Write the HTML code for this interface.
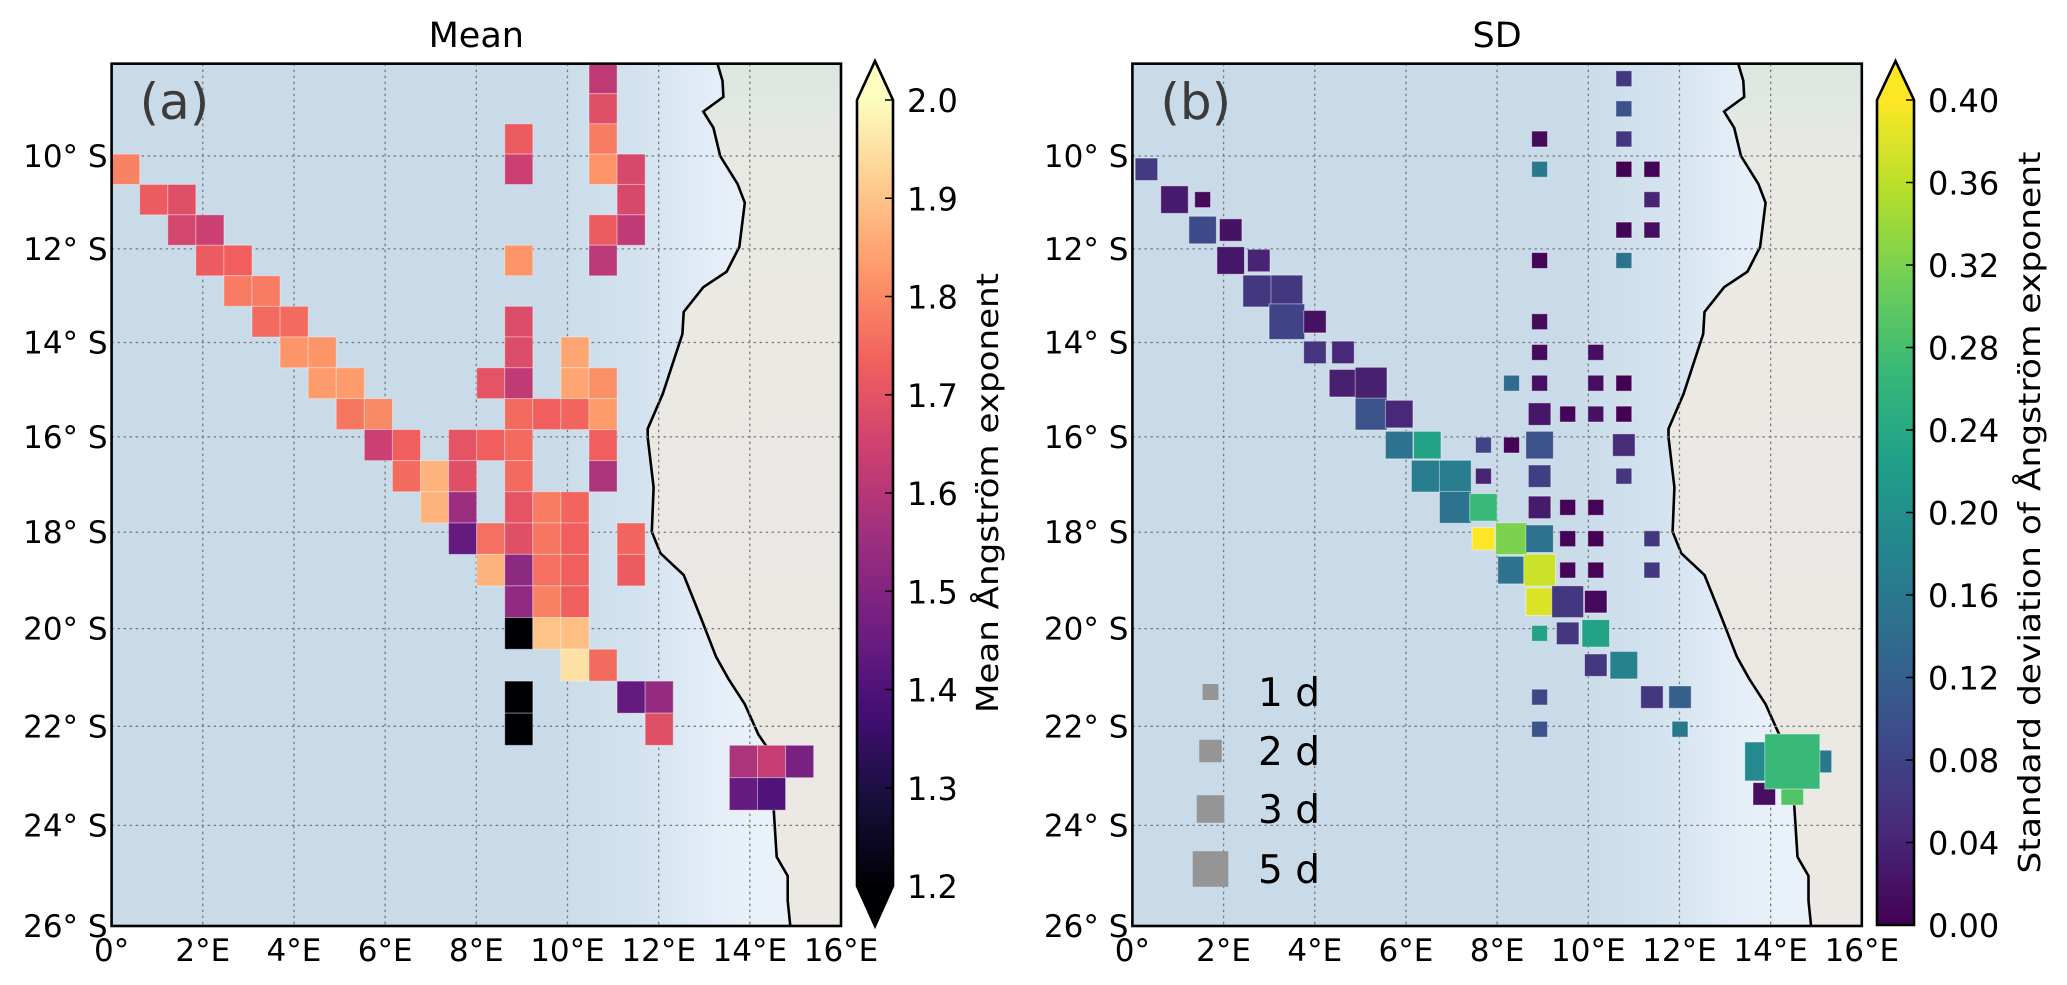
<!DOCTYPE html>
<html><head><meta charset="utf-8"><style>
html,body{margin:0;padding:0;background:#fff;}
svg text{font-family:"DejaVu Sans","Liberation Sans",sans-serif;}
</style></head><body>
<svg id="fig" width="2067" height="980" viewBox="0 0 2067 980" xmlns="http://www.w3.org/2000/svg">
<defs>
<linearGradient id="ocean" x1="0" y1="0" x2="1" y2="0">
<stop offset="0" stop-color="#c9dbe9"/><stop offset="0.6" stop-color="#c9dbe9"/><stop offset="0.72" stop-color="#d3e2ef"/><stop offset="0.84" stop-color="#e6eff8"/><stop offset="1" stop-color="#eef4fa"/>
</linearGradient>
<linearGradient id="land" x1="0" y1="0" x2="0" y2="1">
<stop offset="0" stop-color="#dbe6df"/><stop offset="0.12" stop-color="#e9e9e4"/><stop offset="1" stop-color="#ece8e3"/>
</linearGradient>
<clipPath id="clipA"><rect x="111.6" y="63.7" width="729.5" height="862.3"/></clipPath>
<clipPath id="clipB"><rect x="1132.4" y="63.7" width="729.5" height="862.3"/></clipPath>
</defs>
</svg>
<script>
// ---- data ----
const meanI = [17,17,14,17, 0,14,17,18, 1,2,18, 2,3,17,18, 3,4,14,17, 4,5, 5,6,14, 6,7,14,16, 7,8,13,14,16,17, 8,9,14,15,16,17, 9,10,12,13,14,17, 10,11,12,14,17, 11,12,14,15,16, 12,13,14,15,16,18, 13,14,15,16,18, 14,15,16, 14,15,16, 16,17, 14,18,19, 14,19, 22,23,24, 22,23];
const meanJ = [-3,-2,-1,-1, 0,0,0,0, 1,1,1, 2,2,2,2, 3,3,3,3, 4,4, 5,5,5, 6,6,6,6, 7,7,7,7,7,7, 8,8,8,8,8,8, 9,9,9,9,9,9, 10,10,10,10,10, 11,11,11,11,11, 12,12,12,12,12,12, 13,13,13,13,13, 14,14,14, 15,15,15, 16,16, 17,17,17, 18,18, 19,19,19, 20,20];
const meanV = [1.62,1.69,1.72,1.78, 1.79,1.64,1.82,1.67, 1.72,1.69,1.67, 1.66,1.64,1.72,1.62, 1.72,1.73,1.82,1.61, 1.78,1.78, 1.75,1.75,1.68, 1.82,1.82,1.68,1.85, 1.83,1.83,1.70,1.62,1.85,1.81, 1.77,1.80,1.75,1.73,1.74,1.83, 1.64,1.73,1.70,1.73,1.75,1.73, 1.75,1.87,1.69,1.75,1.58, 1.87,1.55,1.70,1.78,1.74, 1.44,1.76,1.69,1.77,1.73,1.74, 1.87,1.52,1.76,1.73,1.72, 1.53,1.79,1.73, 1.20,1.90,1.89, 1.95,1.75, 1.20,1.44,1.54, 1.20,1.69, 1.58,1.63,1.48, 1.44,1.40];

const sdI = [17,17,14,17, 0,14,17,18, 1,2,18, 2,3,17,18, 3,4,14,17, 4,5, 5,6,14, 6,7,14,16, 7,8,13,14,16,17, 8,9,14,15,16,17, 9,10,12,13,14,17, 10,11,12,14,17, 11,12,14,15,16, 12,13,14,15,16,18, 13,14,15,16,18, 14,15,16, 14,15,16, 16,17, 14,18,19, 14,19, 22,23,22,24,23];
const sdJ = [-3,-2,-1,-1, 0,0,0,0, 1,1,1, 2,2,2,2, 3,3,3,3, 4,4, 5,5,5, 6,6,6,6, 7,7,7,7,7,7, 8,8,8,8,8,8, 9,9,9,9,9,9, 10,10,10,10,10, 11,11,11,11,11, 12,12,12,12,12,12, 13,13,13,13,13, 14,14,14, 15,15,15, 16,16, 17,17,17, 18,18, 20,20,19,19,19];
const sdV = [0.065,0.10,0.01,0.065, 0.068,0.16,0.0,0.005, 0.03,0.01,0.04, 0.09,0.02,0.005,0.015, 0.025,0.04,0.005,0.15, 0.065,0.065, 0.08,0.02,0.01, 0.06,0.045,0.01,0.015, 0.035,0.035,0.14,0.015,0.015,0.0, 0.10,0.045,0.025,0.005,0.02,0.0, 0.15,0.23,0.08,0.005,0.10,0.05, 0.17,0.17,0.04,0.075,0.065, 0.15,0.27,0.03,0.005,0.005, 0.40,0.32,0.15,0.005,0.0,0.065, 0.15,0.37,0.005,0.005,0.065, 0.38,0.065,0.01, 0.23,0.065,0.23, 0.065,0.18, 0.085,0.065,0.12, 0.10,0.16, 0.015,0.29,0.19,0.16,0.27];
const sdD = [1,1,1,1, 2,1,1,1, 3,1,1, 3,2,1,1, 3,2,1,1, 4,4, 5,2,1, 2,2,1,1, 3,4,1,1,1,1, 4,3,2,1,1,1, 3,3,1,1,3,2, 4,4,1,2,1, 4,3,2,1,1, 2,4,3,1,1,1, 3,4,1,1,1, 3,4,2, 1,2,3, 2,3, 1,2,2, 1,1, 2,2,6,2,12];

const legendDays = [1,2,3,5];
const meanTicks = [1.2,1.3,1.4,1.5,1.6,1.7,1.8,1.9,2.0];
const sdTicks = [0.00,0.04,0.08,0.12,0.16,0.20,0.24,0.28,0.32,0.36,0.40];
const lonTicks = [0,2,4,6,8,10,12,14,16];
const latTicks = [10,12,14,16,18,20,22,24,26];
const coastLon = [13.23,13.40,13.42,12.98,13.20,13.35,13.73,13.89,13.77,13.49,12.98,12.55,12.52,12.09,11.76,11.76,11.89,11.85,12.04,12.55,12.94,13.26,13.53,13.89,14.19,14.43,14.52,14.43,14.52,14.59,14.83,14.83,14.91];
const coastLat = [7.8,8.37,8.72,9.04,9.39,10.0,10.60,11.01,11.96,12.49,12.82,13.35,13.82,15.09,15.83,16.01,17.06,17.99,18.44,18.89,19.81,20.58,21.03,21.55,22.17,22.49,22.87,23.05,23.62,24.63,25.01,25.5,26.2];

// ---- scales ----
const NS='http://www.w3.org/2000/svg';
const svg=document.getElementById('fig');
const K=2612, XDEG=K*Math.PI/180;
const merc=l=>Math.log(Math.tan(Math.PI/4+l*Math.PI/360));
const Y0=156, M10=merc(10);
const yOf=lat=>Y0+K*(merc(lat)-M10);
const panels=[{x0:111.6,clip:'clipA'},{x0:1132.4,clip:'clipB'}];
const xOf=(p,lon)=>panels[p].x0+lon*XDEG;
const CW=0.616, CH=0.654, LAT0=9.96;
const lonC=i=>(i+0.5)*CW, latC=j=>LAT0+(j+0.5)*CH;

function mk(tag,attrs,parent){const e=document.createElementNS(NS,tag);for(const k in attrs)e.setAttribute(k,attrs[k]);(parent||svg).appendChild(e);return e;}
function interp(stops,t){t=Math.max(0,Math.min(1,t));const n=stops.length-1;const f=t*n;const a=Math.min(n-1,Math.floor(f));const u=f-a;
 const h=s=>[parseInt(s.substr(1,2),16),parseInt(s.substr(3,2),16),parseInt(s.substr(5,2),16)];
 const c1=h(stops[a]),c2=h(stops[a+1]);return 'rgb('+c1.map((v,k)=>Math.round(v+(c2[k]-v)*u)).join(',')+')';}
const MAGMA=['#000004','#180f3d','#440f76','#721f81','#9e2f7f','#cd4071','#f1605d','#fd9668','#feca8d','#fcfdbf'];
const VIR=['#440154','#482878','#3e4a89','#31688e','#26828e','#1f9e89','#35b779','#6ece58','#b5de2b','#fde725'];
const magma=v=>interp(MAGMA,(v-1.2)/0.8);
const viridis=v=>interp(VIR,v/0.4);
const mapTop=yOf(8), mapBot=yOf(26);

// ---- panels ----
const titles=['Mean','SD'], tags=['(a)','(b)'];
for(let p=0;p<2;p++){
 const g=mk('g',{'clip-path':'url(#'+panels[p].clip+')'});
 
 
 const w=xOf(p,16)-xOf(p,0);
 const oc=mk('rect',{x:xOf(p,0),y:mapTop,width:w,height:mapBot-mapTop,fill:'url(#ocean)'},g);
 
 
 let d='M'+xOf(p,coastLon[0])+','+(mapTop-5);
 for(let k=0;k<coastLon.length;k++) d+=' L'+xOf(p,coastLon[k]).toFixed(1)+','+yOf(coastLat[k]).toFixed(1);
 const land=mk('path',{d:d+' L'+(xOf(p,16)+5)+','+(mapBot+5)+' L'+(xOf(p,16)+5)+','+(mapTop-5)+' Z',fill:'url(#land)'},g);
 
 
 const cl=mk('path',{d:d,fill:'none',stroke:'#000','stroke-width':2.6},g);
 
 
 for(const lo of lonTicks){ if(lo===0||lo===16)continue;
  const l=mk('line',{x1:xOf(p,lo),x2:xOf(p,lo),y1:mapTop,y2:mapBot,stroke:'#7a7a7a','stroke-width':1.3,'stroke-dasharray':'2.5,3.5'},g);
  
  }
 for(const la of latTicks){ if(la===26)continue;
  const l=mk('line',{x1:xOf(p,0),x2:xOf(p,16),y1:yOf(la),y2:yOf(la),stroke:'#7a7a7a','stroke-width':1.3,'stroke-dasharray':'2.5,3.5'},g);
  
  }
 if(p===0){
  for(let k=0;k<meanI.length;k++){
   const x1=xOf(0,meanI[k]*CW), x2=xOf(0,(meanI[k]+1)*CW);
   const y1=yOf(LAT0+meanJ[k]*CH), y2=yOf(LAT0+(meanJ[k]+1)*CH);
   const r=mk('rect',{x:x1,y:y1,width:x2-x1,height:y2-y1,fill:magma(meanV[k]),stroke:'rgba(255,255,255,0.35)','stroke-width':1},g);
   
   
  }
 } else {
  for(let k=0;k<sdI.length;k++){
   const s=15.9*Math.sqrt(sdD[k]);
   const cx=xOf(1,lonC(sdI[k])), cy=yOf(latC(sdJ[k]));
   const r=mk('rect',{x:cx-s/2,y:cy-s/2,width:s,height:s,fill:viridis(sdV[k]),stroke:'rgba(255,255,255,0.45)','stroke-width':1},g);
   
   
  }
  const legY=[692,751,809,869];
  for(let k=0;k<legendDays.length;k++){
   const s=15.9*Math.sqrt(legendDays[k]);
   const r=mk('rect',{x:1210.5-s/2,y:legY[k]-s/2,width:s,height:s,fill:'#959595'});
   
   
   const t=mk('text',{x:1258,y:legY[k]+14,'font-size':39,fill:'#000'});
   t.textContent=legendDays[k]+' d';
   
   
  }
 }
 const b=mk('rect',{x:xOf(p,0),y:mapTop,width:w,height:mapBot-mapTop,fill:'none',stroke:'#000','stroke-width':2.6});
 
 
 const tt=mk('text',{x:(xOf(p,0)+xOf(p,16))/2,y:47,'font-size':35,'text-anchor':'middle',fill:'#000'});
 tt.textContent=titles[p];
 
 
 const tg=mk('text',{x:xOf(p,0)+28,y:119,'font-size':50,fill:'#3b3b3b'});
 tg.textContent=tags[p];
 
 
 for(const lo of lonTicks){
  const t=mk('text',{x:xOf(p,lo),y:961,'font-size':31,'text-anchor':'middle',fill:'#000'});
  t.textContent=lo===0?'0°':lo+'°E';
  
  
 }
 for(const la of latTicks){
  const t=mk('text',{x:xOf(p,0)-4,y:yOf(la)+11,'font-size':31,'text-anchor':'end',fill:'#000'});
  t.textContent=la+'° S';
  
  
 }
}

// ---- colorbars ----
function colorbar(x0,x1,vmin,vmax,yT,yB,stops,ticks,fmt,lowArrow,labelText,labelX,labelLen,name){
 const id='g'+name;
 const lg=mk('linearGradient',{id:id,x1:0,y1:1,x2:0,y2:0},svg.querySelector('defs'));
 stops.forEach((c,k)=>mk('stop',{offset:k/(stops.length-1),'stop-color':c},lg));
 const g=mk('g',{});
 
 
 const cx=(x0+x1)/2;
 mk('polygon',{points:x0+','+yT+' '+cx+','+(yT-39)+' '+x1+','+yT,fill:stops[stops.length-1]},g);
 mk('rect',{x:x0,y:yT,width:x1-x0,height:yB-yT,fill:'url(#'+id+')'},g);
 let out='M'+x0+','+yT+' L'+cx+','+(yT-39)+' L'+x1+','+yT+' L'+x1+','+yB;
 if(lowArrow){mk('polygon',{points:x0+','+yB+' '+cx+','+(yB+40)+' '+x1+','+yB,fill:stops[0]},g);out+=' L'+cx+','+(yB+40)+' L'+x0+','+yB;}
 else out+=' L'+x0+','+yB;
 mk('path',{d:out+' Z',fill:'none',stroke:'#000','stroke-width':2.6},g);
 for(const v of ticks){
  const y=yB-(v-vmin)/(vmax-vmin)*(yB-yT);
  mk('line',{x1:x1-8,x2:x1,y1:y,y2:y,stroke:'#000','stroke-width':1.5},g);
  const t=mk('text',{x:x1+14,y:y+12,'font-size':32,fill:'#000'},g);
  t.textContent=fmt(v);
  
  
 }
 const cy=(yT+yB)/2;
 const lab=mk('text',{x:labelX,y:cy,'font-size':30,'text-anchor':'middle',transform:'rotate(-90 '+labelX+' '+cy+')',textLength:labelLen,lengthAdjust:'spacingAndGlyphs',fill:'#000'});
 lab.textContent=labelText;
 
 
}
colorbar(857,893,1.2,2.0,100,886,MAGMA,meanTicks,v=>v.toFixed(1),true,'Mean Ångström exponent',998,440,'mean-colorbar');
colorbar(1877,1914,0,0.4,100,925,VIR,sdTicks,v=>v.toFixed(2),false,'Standard deviation of Ångström exponent',2040,722,'sd-colorbar');
</script>
</body></html>
